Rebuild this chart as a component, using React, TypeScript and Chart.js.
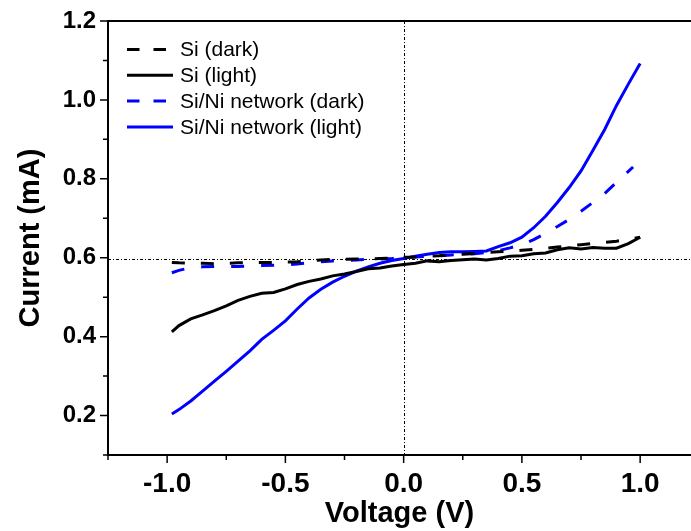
import React, { useEffect, useRef } from "react";
import { Chart, registerables } from "chart.js";

Chart.register(...registerables);

// Voltage (V) sample points
const voltage = [
  -0.98, -0.95, -0.9, -0.85, -0.8, -0.75, -0.7, -0.65, -0.6, -0.55, -0.5, -0.45, -0.4, -0.35, -0.3, -0.25,
  -0.2, -0.15, -0.1, -0.05, 0.0, 0.05, 0.1, 0.15, 0.2, 0.25, 0.3, 0.35, 0.4, 0.45, 0.5, 0.55, 0.6, 0.65,
  0.7, 0.75, 0.8, 0.85, 0.9, 0.95, 1.0,
];

// Current (mA)
const siDark = [
  0.588, 0.587, 0.586, 0.586, 0.585, 0.586, 0.587, 0.587, 0.588, 0.588, 0.589, 0.590, 0.592, 0.594, 0.596, 0.596,
  0.597, 0.597, 0.598, 0.599, 0.601, 0.602, 0.604, 0.605, 0.607, 0.609, 0.611, 0.613, 0.615, 0.617, 0.619, 0.621,
  0.624, 0.627, 0.630, 0.633, 0.636, 0.639, 0.642, 0.646, 0.652,
];
const siLight = [
  0.412, 0.428, 0.445, 0.455, 0.466, 0.478, 0.492, 0.502, 0.510, 0.512, 0.521, 0.532, 0.540, 0.546, 0.554, 0.559,
  0.565, 0.572, 0.574, 0.579, 0.583, 0.586, 0.592, 0.590, 0.593, 0.595, 0.597, 0.594, 0.598, 0.604, 0.605, 0.610,
  0.612, 0.620, 0.625, 0.622, 0.626, 0.624, 0.624, 0.636, 0.652,
];
const siNiDarkVoltage = [
  -0.98, -0.95, -0.9, -0.85, -0.8, -0.75, -0.7, -0.65, -0.6, -0.55, -0.5, -0.45, -0.4, -0.35, -0.3, -0.25,
  -0.2, -0.15, -0.1, -0.05, 0.0, 0.05, 0.1, 0.15, 0.2, 0.25, 0.3, 0.35, 0.4, 0.45, 0.5, 0.55, 0.6, 0.65,
  0.7, 0.75, 0.8, 0.85, 0.9, 0.97,
];
const siNiDark = [
  0.562, 0.568, 0.575, 0.577, 0.578, 0.578, 0.578, 0.579, 0.580, 0.581, 0.582, 0.584, 0.587, 0.590, 0.592, 0.593,
  0.594, 0.596, 0.597, 0.598, 0.600, 0.602, 0.604, 0.605, 0.607, 0.608, 0.610, 0.613, 0.618, 0.625, 0.633, 0.646,
  0.662, 0.679, 0.697, 0.718, 0.740, 0.763, 0.791, 0.830,
];
const siNiLight = [
  0.204, 0.215, 0.237, 0.262, 0.287, 0.312, 0.338, 0.364, 0.393, 0.416, 0.440, 0.470, 0.498, 0.520, 0.538, 0.553,
  0.566, 0.577, 0.586, 0.593, 0.598, 0.604, 0.609, 0.613, 0.615, 0.615, 0.616, 0.617, 0.628, 0.638, 0.652, 0.676,
  0.705, 0.740, 0.778, 0.820, 0.872, 0.925, 0.986, 1.040, 1.092,
];

const seriesNames = ["Si (dark)", "Si (light)", "Si/Ni network (dark)", "Si/Ni network (light)"];

const xTicks = [-1.0, -0.5, 0.0, 0.5, 1.0];
const xMinorTicks = [-1.25, -0.75, -0.25, 0.25, 0.75];
const yTicks = [0.2, 0.4, 0.6, 0.8, 1.0, 1.2];
const yMinorTicks = [0.1, 0.3, 0.5, 0.7, 0.9, 1.1];
const refVoltage = 0.0;
const refCurrent = 0.598;

const FONT = "'Liberation Sans', Arial, Helvetica, sans-serif";

export default function App() {
  const canvasRef = useRef<HTMLCanvasElement | null>(null);

  useEffect(() => {
    const canvas = canvasRef.current;
    if (!canvas) return;

    const toPts = (xs: number[], ys: number[]) => ys.map((y, i) => ({ x: xs[i], y }));

    const frame = {
      id: "frameAndRefs",
      beforeDatasetsDraw(chart: any) {
        const { ctx, chartArea: a, scales } = chart;
        const xs = scales.x;
        const ys = scales.y;
        ctx.save();
        ctx.strokeStyle = "#000";
        ctx.lineWidth = 1;
        ctx.setLineDash([3, 2, 1, 2]);
        const vx = Math.round(xs.getPixelForValue(refVoltage)) + 0.5;
        ctx.beginPath();
        ctx.moveTo(vx, a.top);
        ctx.lineTo(vx, a.bottom);
        ctx.stroke();
        const hy = Math.round(ys.getPixelForValue(refCurrent)) + 0.5;
        ctx.beginPath();
        ctx.moveTo(a.left, hy);
        ctx.lineTo(a.right + 5, hy);
        ctx.stroke();
        ctx.restore();
      },
      afterDatasetsDraw(chart: any) {
        const { ctx, chartArea: a, scales } = chart;
        const xs = scales.x;
        const ys = scales.y;
        ctx.save();
        ctx.strokeStyle = "#000";
        ctx.setLineDash([]);
        ctx.lineWidth = 2;
        ctx.beginPath();
        ctx.moveTo(a.right + 5, a.top);
        ctx.lineTo(a.left, a.top);
        ctx.lineTo(a.left, a.bottom);
        ctx.lineTo(a.right + 5, a.bottom);
        ctx.stroke();
        ctx.lineWidth = 1.5;
        ctx.beginPath();
        xTicks.forEach((v) => {
          const p = xs.getPixelForValue(v);
          ctx.moveTo(p, a.bottom);
          ctx.lineTo(p, a.bottom + 8);
        });
        xMinorTicks.forEach((v) => {
          const p = xs.getPixelForValue(v);
          ctx.moveTo(p, a.bottom);
          ctx.lineTo(p, a.bottom + 5);
        });
        yTicks.forEach((v) => {
          const p = ys.getPixelForValue(v);
          ctx.moveTo(a.left, p);
          ctx.lineTo(a.left - 8, p);
        });
        yMinorTicks.forEach((v) => {
          const p = ys.getPixelForValue(v);
          ctx.moveTo(a.left, p);
          ctx.lineTo(a.left - 5, p);
        });
        ctx.stroke();

        // legend
        const dsets = chart.data.datasets;
        ctx.font = `21px ${FONT}`;
        ctx.textBaseline = "middle";
        ctx.textAlign = "left";
        dsets.forEach((d: any, i: number) => {
          const y = 49.5 + i * 25.8;
          ctx.strokeStyle = d.borderColor;
          ctx.lineWidth = 3;
          ctx.setLineDash(d.borderDash && d.borderDash.length ? [12.5, 14] : []);
          ctx.beginPath();
          ctx.moveTo(127, y);
          ctx.lineTo(173, y);
          ctx.stroke();
          ctx.setLineDash([]);
          ctx.fillStyle = "#000";
          ctx.fillText(d.label, 180, y + 1);
        });
        ctx.restore();
      },
    };

    const chart = new Chart(canvas, {
      type: "line",
      data: {
        datasets: [
          {
            label: seriesNames[0],
            data: toPts(voltage, siDark),
            borderColor: "#000000",
            borderDash: [13, 16],
          },
          {
            label: seriesNames[1],
            data: toPts(voltage, siLight),
            borderColor: "#000000",
            borderDash: [],
          },
          {
            label: seriesNames[2],
            data: toPts(siNiDarkVoltage, siNiDark),
            borderColor: "#0000ff",
            borderDash: [13, 17],
          },
          {
            label: seriesNames[3],
            data: toPts(voltage, siNiLight),
            borderColor: "#0000ff",
            borderDash: [],
          },
        ],
      },
      options: {
        animation: false,
        responsive: false,
        maintainAspectRatio: false,
        devicePixelRatio: 1,
        layout: { padding: { top: 21, right: 0, bottom: 0, left: 0 } },
        elements: {
          point: { radius: 0 },
          line: { borderWidth: 3, tension: 0, fill: false },
        },
        plugins: { legend: { display: false }, tooltip: { enabled: false } },
        scales: {
          x: {
            type: "linear",
            min: -1.25,
            max: 1.215,
            grid: { display: false, drawTicks: false },
            border: { display: false },
            afterBuildTicks: (s: any) => {
              s.ticks = xTicks.map((v) => ({ value: v }));
            },
            afterFit: (s: any) => {
              s.height = 76;
              s.paddingLeft = 0;
              s.paddingRight = 0;
            },
            ticks: {
              padding: 12,
              color: "#000",
              maxRotation: 0,
              autoSkip: false,
              font: { family: FONT, size: 28, weight: "bold" },
              callback: (v: any) => Number(v).toFixed(1),
            },
            title: {
              display: true,
              text: "Voltage (V)",
              color: "#000",
              padding: { top: 0, bottom: 0 },
              font: { family: FONT, size: 29, weight: "bold" },
            },
          },
          y: {
            type: "linear",
            min: 0.1,
            max: 1.2,
            grid: { display: false, drawTicks: false },
            border: { display: false },
            afterBuildTicks: (s: any) => {
              s.ticks = yTicks.map((v) => ({ value: v }));
            },
            afterFit: (s: any) => {
              s.width = 108;
              s.paddingTop = 0;
              s.paddingBottom = 0;
            },
            ticks: {
              padding: 12,
              color: "#000",
              autoSkip: false,
              font: { family: FONT, size: 24, weight: "bold" },
              callback: (v: any) => Number(v).toFixed(1),
            },
            title: {
              display: true,
              text: "Current (mA)",
              color: "#000",
              padding: { top: 14, bottom: 0 },
              font: { family: FONT, size: 29, weight: "bold" },
            },
          },
        },
      },
      plugins: [frame],
    });

    return () => chart.destroy();
  }, []);

  return (
    <div
      style={{
        position: "fixed",
        left: 0,
        top: 0,
        width: 691,
        height: 531,
        overflow: "hidden",
        background: "#fff",
      }}
    >
      <canvas ref={canvasRef} width={691} height={531} style={{ display: "block" }} />
    </div>
  );
}
